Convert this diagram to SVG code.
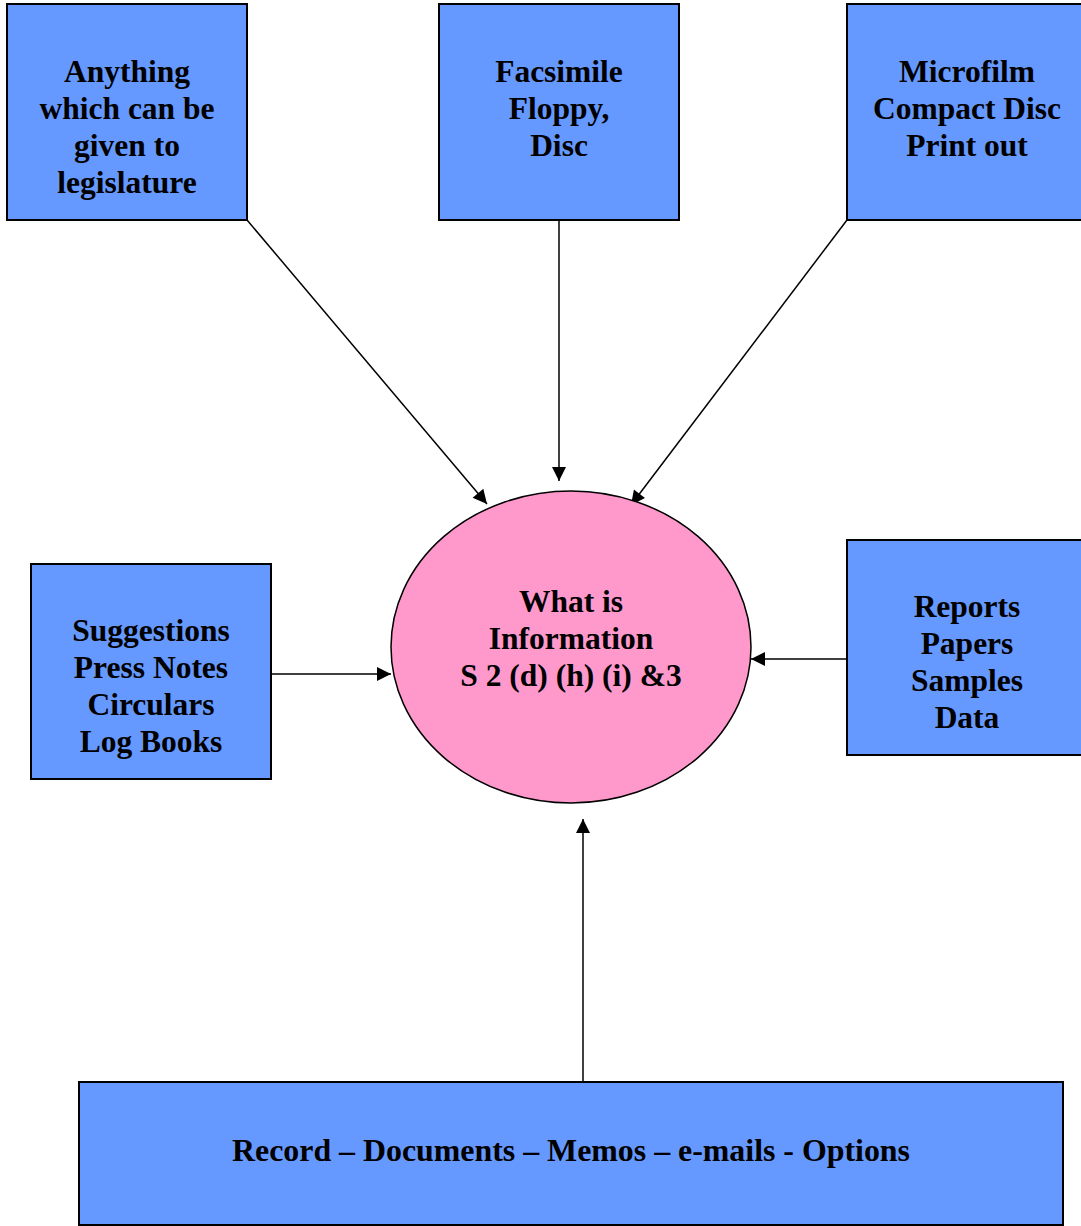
<svg xmlns="http://www.w3.org/2000/svg" width="1081" height="1226" viewBox="0 0 1081 1226">
<style>
.box{fill:#6699FF;stroke:#000;stroke-width:2}
.ell{fill:#FF99CC;stroke:#000;stroke-width:1.5}
.t{font-family:"Liberation Serif","Times New Roman",serif;font-weight:bold;font-size:31.5px;text-anchor:middle;fill:#000}
.c{stroke:#000;stroke-width:1.5;fill:none;marker-end:url(#ah)}
</style>
<defs>
<marker id="ah" viewBox="0 0 10 10" refX="10" refY="5" markerWidth="15" markerHeight="14" markerUnits="userSpaceOnUse" orient="auto">
<path d="M0,0 L10,5 L0,10 z" fill="#000"/>
</marker>
</defs>
<rect width="1081" height="1226" fill="#fff"/>
<g id="connectors">
<line class="c" x1="247" y1="220" x2="487" y2="504"/>
<line class="c" x1="559" y1="220" x2="559" y2="481"/>
<line class="c" x1="847" y1="220" x2="631" y2="505"/>
<line class="c" x1="271" y1="674" x2="391" y2="674"/>
<line class="c" x1="847" y1="659" x2="751" y2="659"/>
<line class="c" x1="583" y1="1082" x2="583" y2="819"/>
</g>
<g id="n-anything">
<rect class="box" x="7" y="4" width="240" height="216"/>
<text class="t" x="127" y="82">Anything</text>
<text class="t" x="127" y="119">which can be</text>
<text class="t" x="127" y="156">given to</text>
<text class="t" x="127" y="193">legislature</text>
</g>
<g id="n-facsimile">
<rect class="box" x="439" y="4" width="240" height="216"/>
<text class="t" x="559" y="82">Facsimile</text>
<text class="t" x="559" y="119">Floppy,</text>
<text class="t" x="559" y="156">Disc</text>
</g>
<g id="n-microfilm">
<rect class="box" x="847" y="4" width="250" height="216"/>
<text class="t" x="967" y="82">Microfilm</text>
<text class="t" x="967" y="119">Compact Disc</text>
<text class="t" x="967" y="156">Print out</text>
</g>
<g id="n-suggestions">
<rect class="box" x="31" y="564" width="240" height="215"/>
<text class="t" x="151" y="641">Suggestions</text>
<text class="t" x="151" y="678">Press Notes</text>
<text class="t" x="151" y="715">Circulars</text>
<text class="t" x="151" y="752">Log Books</text>
</g>
<g id="n-reports">
<rect class="box" x="847" y="540" width="250" height="215"/>
<text class="t" x="967" y="617">Reports</text>
<text class="t" x="967" y="654">Papers</text>
<text class="t" x="967" y="691">Samples</text>
<text class="t" x="967" y="728">Data</text>
</g>
<g id="n-info">
<ellipse class="ell" cx="571" cy="647" rx="180" ry="156"/>
<text class="t" x="571" y="612">What is</text>
<text class="t" x="571" y="649">Information</text>
<text class="t" x="571" y="686">S 2 (d) (h) (i) &amp;3</text>
</g>
<g id="n-record">
<rect class="box" x="79" y="1082" width="984" height="143"/>
<text class="t" x="571" y="1161" textLength="678" lengthAdjust="spacingAndGlyphs">Record – Documents – Memos – e-mails - Options</text>
</g>
</svg>
